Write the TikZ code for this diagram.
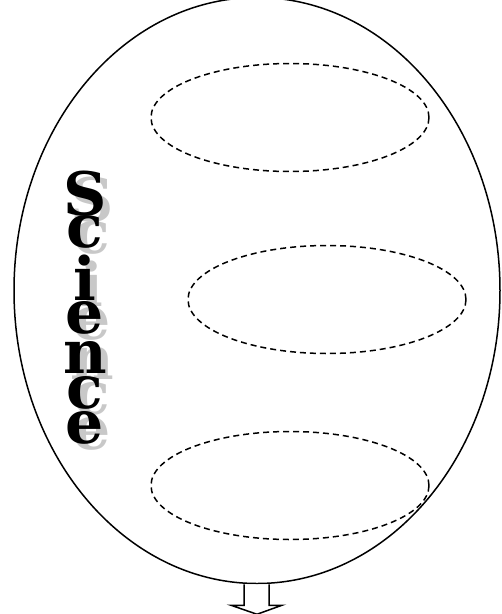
\documentclass[tikz,border=0pt]{standalone}
\usepackage{fontspec}
\setmainfont{DejaVu Serif}
\usepackage{tikz}
\usetikzlibrary{shapes.geometric, positioning, calc}
\definecolor{shadowgray}{RGB}{200, 200, 200}
\tikzstyle{balloon} = [ellipse, draw=black, line width=1.5pt, minimum width=486pt, minimum height=586pt, inner sep=0pt]
\tikzstyle{slot} = [ellipse, draw=black, line width=1.5pt, dash pattern=on 6pt off 4pt, minimum width=278pt, minimum height=108pt, inner sep=0pt]
\tikzstyle{letter} = [anchor=base, inner sep=0pt, font=\fontsize{60}{60}\selectfont\bfseries]
% letter with its grey shadow behind it
\newcommand{\shadowed}[1]{\rlap{\hspace*{7pt}\raisebox{-6pt}{\textcolor{shadowgray}{#1}}}#1}

\begin{document}
\begin{tikzpicture}[x=1pt, y=-1pt]
    \useasboundingbox (0,0) rectangle (502,614);
    \clip (0,0) rectangle (502,614);

    % Balloon
    \node[balloon] (balloon) at (257,290.5) {};

    % Answer slots
    \node[slot] (slottop) at (290,117.5) {};
    \node[slot] (slotmid) at (327,299.5) {};
    \node[slot] (slotbot) at (290,485.5) {};

    % Title, one letter per line
    \foreach \ch/\y [count=\i] in {S/215, c/247, i/300, e/333, n/373, c/408, e/443} {
        \node[letter] (ltr\i) at (85,\y) {\shadowed{\ch}};
    }

    % Hollow arrow under the balloon
    \draw[line width=1.5pt, fill=white]
        ($(balloon.south)+(-13,0)$) -- ++(0,21) -- ++(-13,0) -- ($(balloon.south)+(0,30)$)
        -- ($(balloon.south)+(25,21)$) -- ++(-13,0) -- ($(balloon.south)+(12,0)$);
\end{tikzpicture}
\end{document}
